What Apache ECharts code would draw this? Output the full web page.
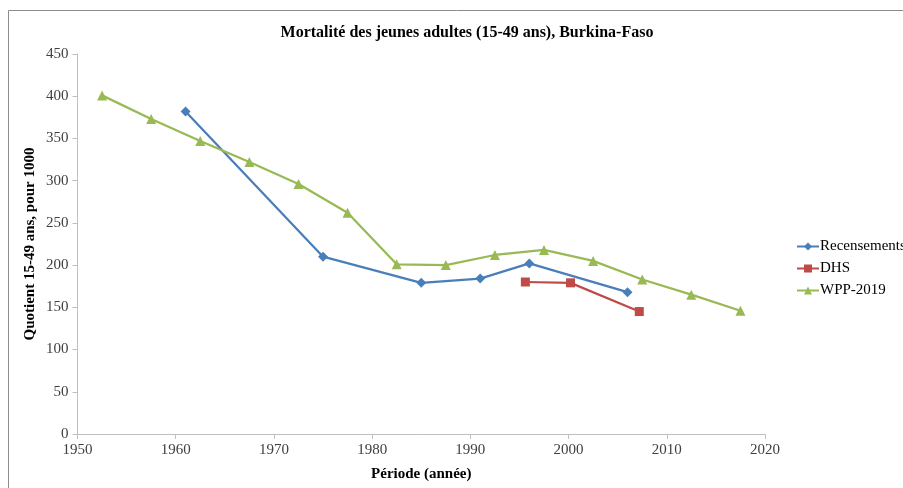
<!DOCTYPE html>
<html>
<head>
<meta charset="utf-8">
<script src="https://cdn.jsdelivr.net/npm/echarts@6/dist/echarts.min.js"></script>
<style>
  html, body { margin: 0; padding: 0; background: #fff; }
  #chart { width: 903px; height: 488px; }
</style>
</head>
<body>
<div id="chart"></div>
<script>
// Recensements (censuses)
const recYears = [1961, 1975, 1985, 1991, 1996, 2006];
const recValues = [382, 210, 179, 184, 202, 168];

// DHS surveys
const dhsYears = [1995.6, 2000.2, 2007.2];
const dhsValues = [180, 179, 145];

// WPP-2019, mid-period years
const wppYears = [1952.5, 1957.5, 1962.5, 1967.5, 1972.5, 1977.5, 1982.5, 1987.5,
                  1992.5, 1997.5, 2002.5, 2007.5, 2012.5, 2017.5];
const wppValues = [401, 373, 347, 322, 296, 262, 201, 200, 212, 218, 205, 183, 165, 146];

const pairs = (xs, ys) => xs.map((x, i) => [x, ys[i]]);

const serif = '"Liberation Serif", "DejaVu Serif", serif';
const axisGray = '#bfbfbf';

const myChart = echarts.init(document.getElementById('chart'));

const option = {
    animation: false,
    backgroundColor: '#fff',
    textStyle: { fontFamily: serif },
    title: {
        text: 'Mortalité des jeunes adultes (15-49 ans), Burkina-Faso',
        left: 462,
        top: 20,
        textAlign: 'center',
        textStyle: { fontFamily: serif, fontSize: 16, fontWeight: 'bold', color: '#000' }
    },
    graphic: [
        {
            type: 'rect',
            shape: { x: 8.5, y: 10.5, width: 1000, height: 1000 },
            style: { fill: 'none', stroke: '#8c8c8c', lineWidth: 1 },
            silent: true
        }
    ],
    legend: {
        orient: 'vertical',
        left: 791,
        top: 234,
        itemGap: 7,
        itemWidth: 22,
        itemHeight: 10,
        textStyle: { fontFamily: serif, fontSize: 15, color: '#000', padding: [0, 0, 0, -4] },
        data: ['Recensements', 'DHS', 'WPP-2019']
    },
    grid: { left: 77.5, right: 138, top: 54, bottom: 54 },
    xAxis: {
        type: 'value',
        min: 1950,
        max: 2020,
        interval: 10,
        name: 'Période (année)',
        nameLocation: 'middle',
        nameGap: 33,
        nameMoveOverlap: false,
        nameTextStyle: { fontFamily: serif, fontSize: 15, fontWeight: 'bold', color: '#000' },
        axisLine: { show: true, lineStyle: { color: axisGray } },
        axisTick: { show: true, length: 5, lineStyle: { color: axisGray } },
        splitLine: { show: false },
        axisLabel: {
            fontFamily: serif, fontSize: 15, color: '#404040', margin: 9,
            formatter: v => String(v)
        }
    },
    yAxis: {
        type: 'value',
        min: 0,
        max: 450,
        interval: 50,
        name: 'Quotient 15-49 ans, pour 1000',
        nameLocation: 'middle',
        nameGap: 40,
        nameMoveOverlap: false,
        nameTextStyle: { fontFamily: serif, fontSize: 15, fontWeight: 'bold', color: '#000' },
        axisLine: { show: true, lineStyle: { color: axisGray } },
        axisTick: { show: true, length: 5, lineStyle: { color: axisGray } },
        splitLine: { show: false },
        axisLabel: { fontFamily: serif, fontSize: 15, color: '#404040', margin: 9 }
    },
    series: [
        {
            name: 'Recensements',
            type: 'line',
            data: pairs(recYears, recValues),
            symbol: 'diamond',
            symbolSize: 10,
            color: '#4a7ebb',
            lineStyle: { width: 2.25 },
            itemStyle: { color: '#4a7ebb' }
        },
        {
            name: 'DHS',
            type: 'line',
            data: pairs(dhsYears, dhsValues),
            symbol: 'rect',
            symbolSize: 9,
            color: '#be4b48',
            lineStyle: { width: 2.25 },
            itemStyle: { color: '#be4b48' }
        },
        {
            name: 'WPP-2019',
            type: 'line',
            data: pairs(wppYears, wppValues),
            symbol: 'triangle',
            symbolSize: 10,
            color: '#98b954',
            lineStyle: { width: 2.25 },
            itemStyle: { color: '#98b954' }
        }
    ]
};

myChart.setOption(option);

window.addEventListener('resize', () => {
    myChart.resize();
});
</script>
</body>
</html>
